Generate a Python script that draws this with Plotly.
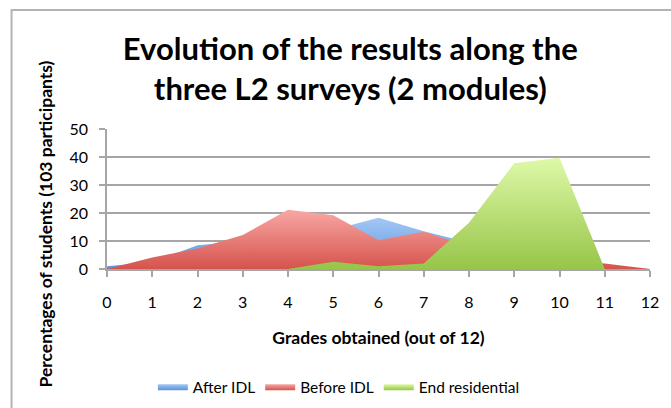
import plotly.graph_objects as go

grades = list(range(13))

after_idl = [1, 2.5, 8.5, 10, 16, 14, 18.3, 13.5, 9.5, 5, 3, 1, 0]
before_idl = [0, 4.1, 7.3, 12.1, 21.2, 19.2, 10.3, 13.3, 8, 4, 3, 2, 0]
end_residential = [0, 0, 0, 0, 0, 2.6, 1, 2, 16.5, 37.8, 39.7, 0, 0]

fig = go.Figure()

fig.add_trace(go.Scatter(x=grades, y=after_idl, name="After IDL",
                         mode="none", fill="tozeroy",
                         fillgradient=dict(type="vertical",
                                           colorscale=[[0, "#5b95dc"], [1, "#a3c7f5"]])))
fig.add_trace(go.Scatter(x=grades, y=before_idl, name="Before IDL",
                         mode="none", fill="tozeroy",
                         fillgradient=dict(type="vertical",
                                           colorscale=[[0, "#d6534d"], [1, "#f8a8a4"]])))
fig.add_trace(go.Scatter(x=grades, y=end_residential, name="End residential",
                         mode="none", fill="tozeroy",
                         fillgradient=dict(type="vertical",
                                           colorscale=[[0, "#97c548"], [1, "#def9a8"]])))

fig.update_layout(
    width=671, height=408,
    margin=dict(l=107, r=16, t=129, b=139),
    paper_bgcolor="white", plot_bgcolor="white",
    font=dict(family="Lato", size=15, color="black"),
    title=dict(text="<b>Evolution of the results along the<br>three L2 surveys (2 modules)</b>",
               x=0.522, xanchor="center", xref="container",
               y=0.853, yanchor="middle", yref="container",
               font=dict(family="Lato", size=31, color="black")),
    showlegend=True,
    legend=dict(orientation="h", xref="container", yref="container",
                x=0.505, xanchor="center", y=0.05, yanchor="middle",
                font=dict(family="Lato", size=15.5), itemwidth=30),
    xaxis=dict(range=[0, 12], tickmode="linear", tick0=0, dtick=1,
               showgrid=False, zeroline=False,
               showline=True, linecolor="#a6a6a6", linewidth=1.5,
               ticks="outside", ticklen=6, tickcolor="#a6a6a6", tickwidth=1.5,
               ticklabelstandoff=12,
               tickfont=dict(family="Lato", size=16),
               title=dict(text="<b>Grades obtained (out of 12)</b>", standoff=22,
                          font=dict(family="Lato", size=17.5))),
    yaxis=dict(range=[0, 50], tickmode="linear", tick0=0, dtick=10,
               showgrid=True, gridcolor="#a6a6a6", gridwidth=1.5,
               zeroline=False,
               showline=True, linecolor="#a6a6a6", linewidth=1.5,
               ticks="outside", ticklen=6, tickcolor="#a6a6a6", tickwidth=1.5,
               ticklabelstandoff=8,
               tickfont=dict(family="Lato", size=16)),
    annotations=[dict(text="<b>Percentages of students (103 participants)</b>",
                      textangle=-90, xref="paper", yref="paper",
                      x=-0.1136, y=0.32, xanchor="center", yanchor="middle",
                      showarrow=False, font=dict(family="Lato", size=17.5))],
    shapes=[dict(type="rect", xref="paper", yref="paper",
                 x0=-0.1758, x1=1.1, y0=-1.2, y1=1.85,
                 line=dict(color="#b3b3b3", width=2), layer="below")],
)

fig.write_html("out.html", config={"displayModeBar": False},
               post_script="document.body.style.margin='0';")
